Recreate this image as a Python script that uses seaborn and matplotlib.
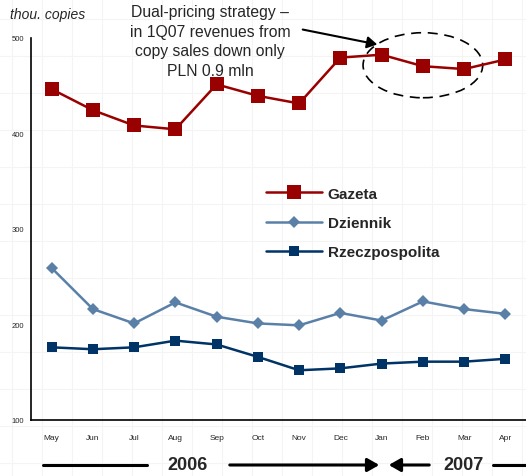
import matplotlib
matplotlib.use("Agg")
import matplotlib.pyplot as plt
import seaborn as sns
import pandas as pd
import numpy as np
from matplotlib.patches import Ellipse

months = ["May", "Jun", "Jul", "Aug", "Sep", "Oct", "Nov", "Dec", "Jan", "Feb", "Mar", "Apr"]
gazeta = [446, 424, 408, 404, 451, 439, 431, 479, 482, 470, 467, 477]
dziennik = [259, 216, 201, 223, 208, 201, 199, 212, 204, 224, 216, 211]
rzeczpospolita = [176, 174, 176, 183, 179, 166, 152, 154, 159, 161, 161, 164]
series_names = ["Gazeta", "Dziennik", "Rzeczpospolita"]
y_ticks = [100, 200, 300, 400, 500]

sns.set_style("white")
plt.rcParams["font.family"] = ["Liberation Sans", "DejaVu Sans"]

df = pd.DataFrame({"month": months * 3,
                   "x": list(range(len(months))) * 3,
                   "value": gazeta + dziennik + rzeczpospolita,
                   "series": [s for s in series_names for _ in months]})

fig = plt.figure(figsize=(5.26, 4.77), dpi=100)

# faint background grid
bg = fig.add_axes([0, 0, 1, 1], zorder=-5)
bg.set_xlim(0, 526)
bg.set_ylim(477, 0)
for gx in np.arange(12, 526, 30):
    bg.axvline(gx, color="#f4f4f4", lw=0.8)
for gy in np.arange(20, 477, 37):
    bg.axhline(gy, color="#f4f4f4", lw=0.8)
bg.axis("off")

ax = fig.add_axes([31 / 526, 1 - 421 / 477, (526 - 31) / 526, (421 - 38.5) / 477])
ax.patch.set_alpha(0)

colors = {"Gazeta": "#990000", "Dziennik": "#5b80a8", "Rzeczpospolita": "#003366"}
markers = {"Gazeta": "s", "Dziennik": "D", "Rzeczpospolita": "s"}
msizes = {"Gazeta": 9.5, "Dziennik": 6.5, "Rzeczpospolita": 6.5}
lws = {"Gazeta": 1.8, "Dziennik": 1.8, "Rzeczpospolita": 1.8}

for name in series_names:
    sub = df[df["series"] == name]
    sns.lineplot(data=sub, x="x", y="value", ax=ax, color=colors[name],
                 marker=markers[name], markersize=msizes[name], markeredgewidth=0,
                 lw=lws[name], label=name, legend=False)

ax.set_xlim(-0.5, len(months) - 0.5)
ax.set_ylim(100, 500)
ax.set_yticks(y_ticks)
ax.set_yticklabels([str(v) for v in y_ticks], fontsize=5.5)
ax.set_xticks(range(len(months)))
ax.set_xticklabels(months, fontsize=6)
ax.set_xticks(np.arange(-0.5, len(months), 1), minor=True)
ax.tick_params(axis="x", which="major", length=0, pad=10)
ax.tick_params(axis="x", which="minor", length=4, width=1, direction="out", color="black")
ax.tick_params(axis="y", length=3, width=1, direction="out", color="black", pad=2)
ax.set_xlabel("")
ax.set_ylabel("")
for s in ["top", "right"]:
    ax.spines[s].set_visible(False)
for s in ["left", "bottom"]:
    ax.spines[s].set_color("black")
    ax.spines[s].set_linewidth(1.2)

# legend
h, l = ax.get_legend_handles_labels()
leg = fig.legend(h, l, loc="upper left", bbox_to_anchor=(252 / 526, 1 - 174 / 477),
                 frameon=False, prop={"weight": "bold", "size": 11},
                 handlelength=3.7, labelspacing=1.0, handletextpad=0.35)

# ellipse around 1Q07
ell = Ellipse((9.0, 471), width=2.9, height=68, fill=False, ls=(0, (6, 4)),
              lw=1.2, edgecolor="black", clip_on=False)
ax.add_patch(ell)

# annotation text & arrow
fig.text(210 / 526, 1 - 5 / 477,
         "Dual-pricing strategy –\nin 1Q07 revenues from\ncopy sales down only\nPLN 0.9 mln",
         ha="center", va="top", fontsize=11.3, linespacing=1.38)
fig.patches.append(matplotlib.patches.FancyArrowPatch(
    (300 / 526, 1 - 30 / 477), (380 / 526, 1 - 46 / 477), transform=fig.transFigure,
    arrowstyle="-|>,head_length=6,head_width=3.5", lw=1.5, color="black"))

fig.text(10 / 526, 1 - 15 / 477, "thou. copies", style="italic", fontsize=10,
         ha="left", va="center")

# timeline
ty = 1 - 466 / 477
fig.add_artist(plt.Line2D([43 / 526, 147 / 526], [ty, ty], color="black", lw=2.2))
fig.patches.append(matplotlib.patches.FancyArrowPatch(
    (227 / 526, ty), (382 / 526, ty), transform=fig.transFigure,
    arrowstyle="-|>,head_length=7,head_width=4", lw=2.2, color="black"))
fig.patches.append(matplotlib.patches.FancyArrowPatch(
    (432 / 526, ty), (386 / 526, ty), transform=fig.transFigure,
    arrowstyle="-|>,head_length=7,head_width=4", lw=2.2, color="black"))
fig.add_artist(plt.Line2D([493 / 526, 1.0], [ty, ty], color="black", lw=2.2))
fig.text(187 / 526, ty, "2006", ha="center", va="center", fontsize=13, weight="bold")
fig.text(463 / 526, ty, "2007", ha="center", va="center", fontsize=13, weight="bold")

fig.savefig("out.png", dpi=100)
